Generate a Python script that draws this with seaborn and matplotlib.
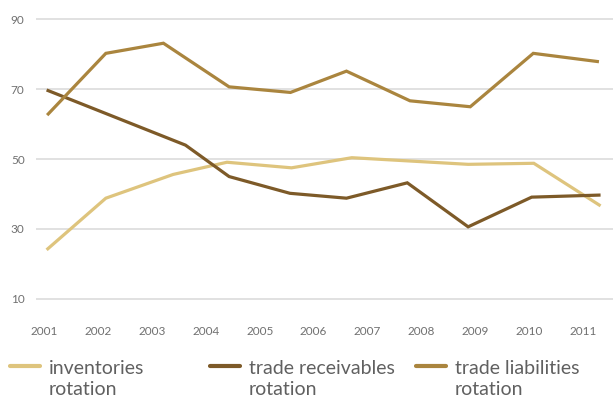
import matplotlib
matplotlib.use("Agg")
import matplotlib.pyplot as plt
from matplotlib.lines import Line2D
import seaborn as sns
import pandas as pd

# Rotation ratios (days) by year; readings fall between year ticks
inventories_year = [2001.04, 2002.14, 2003.39, 2004.39, 2005.59, 2006.71, 2008.87, 2010.09, 2011.33]
inventories_days = [24.0, 38.8, 45.6, 49.1, 47.5, 50.4, 48.5, 48.8, 36.6]

receivables_year = [2001.04, 2003.62, 2004.43, 2005.56, 2006.61, 2007.74, 2008.87, 2010.05, 2011.33]
receivables_days = [69.8, 54.0, 45.0, 40.2, 38.8, 43.2, 30.6, 39.1, 39.7]

liabilities_year = [2001.05, 2002.14, 2003.21, 2004.43, 2005.57, 2006.61, 2007.79, 2008.91, 2010.08, 2011.30]
liabilities_days = [62.6, 80.3, 83.2, 70.7, 69.1, 75.2, 66.7, 65.0, 80.3, 77.9]

series_names = ["inventories rotation", "trade receivables rotation", "trade liabilities rotation"]
series_colors = ["#DEC47D", "#7D5A28", "#AA853E"]
year_ticks = list(range(2001, 2012))
y_ticks = [10, 30, 50, 70, 90]

frames = []
for name, xs, ys in zip(series_names,
                        [inventories_year, receivables_year, liabilities_year],
                        [inventories_days, receivables_days, liabilities_days]):
    frames.append(pd.DataFrame({"year": xs, "days": ys, "series": name}))
df = pd.concat(frames, ignore_index=True)

sns.set_theme(style="white")
plt.rcParams["font.family"] = ["Lato", "DejaVu Sans"]

fig = plt.figure(figsize=(6.13, 3.98), dpi=100)
ax = fig.add_axes([0.0582, 0.2407, 0.9418, 0.7191])

sns.lineplot(data=df, x="year", y="days", hue="series", hue_order=series_names,
             palette=series_colors, estimator=None, sort=False, linewidth=2.3,
             legend=False, ax=ax)
for ln in ax.lines:
    ln.set_solid_capstyle("butt")
    ln.set_solid_joinstyle("miter")

ax.set_xlim(2000.837, 2011.561)
ax.set_ylim(9, 91)
ax.set_xticks(year_ticks)
ax.set_xticklabels([str(y) for y in year_ticks])
ax.set_yticks(y_ticks)
ax.set_xlabel("")
ax.set_ylabel("")
ax.yaxis.grid(True, color="#d9d9d9", linewidth=1.1)
ax.xaxis.grid(False)
ax.set_axisbelow(True)
for sp in ax.spines.values():
    sp.set_visible(False)
ax.tick_params(axis="both", length=0, labelsize=8.5, labelcolor="#707070")
ax.tick_params(axis="x", pad=17)
ax.tick_params(axis="y", pad=8)

# Legend row along the bottom: a swatch followed by a two-line label
W, H = 613.0, 398.0
col_starts = [10, 210, 416]
for start, name, color in zip(col_starts, series_names, series_colors):
    first, second = name.rsplit(" ", 1)
    fig.add_artist(Line2D([start / W, (start + 30) / W], [1 - 366 / H, 1 - 366 / H],
                          color=color, linewidth=3.0, solid_capstyle="round",
                          transform=fig.transFigure))
    fig.text((start + 39) / W, 1 - 373.5 / H, first, fontsize=14, color="#606060",
             va="baseline", ha="left")
    fig.text((start + 39) / W, 1 - 395 / H, second, fontsize=14, color="#606060",
             va="baseline", ha="left")

fig.savefig("out.png", dpi=100)
